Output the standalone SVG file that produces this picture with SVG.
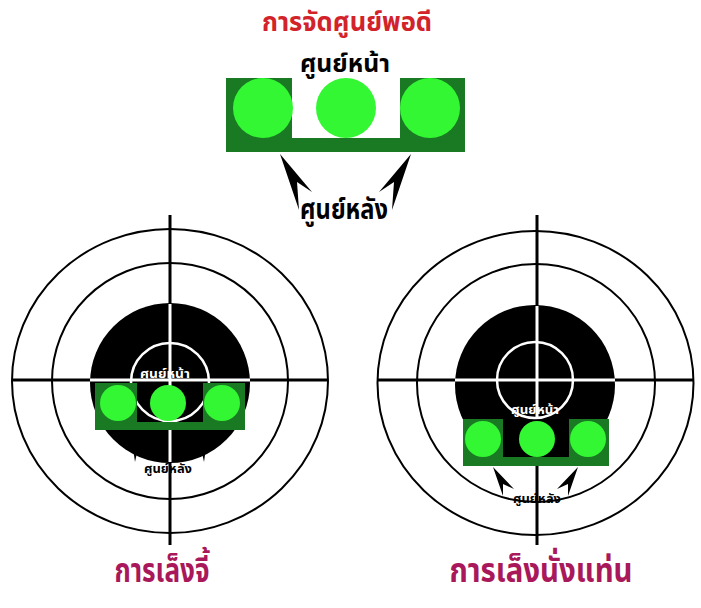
<svg xmlns="http://www.w3.org/2000/svg" width="701" height="608" viewBox="0 0 701 608">
<style>
.th{font-family:"Noto Sans Thai","Noto Sans","DejaVu Sans",sans-serif;font-weight:bold;text-anchor:middle}
.ring{fill:none;stroke:#000;stroke-width:2}
.cross{stroke:#000;stroke-width:3}
.wcross{stroke:#fff;stroke-width:3}
.frame{fill:#1a7a24}
.dot{fill:#33f733}
.arrow{fill:#000}
</style>
<rect width="701" height="608" fill="#fff"/>

<g id="title">
<text class="th" x="347" y="31" font-size="27" fill="#d2232a" textLength="170" lengthAdjust="spacingAndGlyphs">การจัดศูนย์พอดี</text>
</g>

<g id="sight-top">
<text class="th" x="345" y="72" font-size="25" fill="#000" textLength="90" lengthAdjust="spacingAndGlyphs">ศูนย์หน้า</text>
<path class="frame" d="M226 78 H292 V138 H400 V78 H465 V152 H226 Z"/>
<circle class="dot" cx="263" cy="108" r="30"/>
<circle class="dot" cx="346" cy="108" r="30"/>
<circle class="dot" cx="430" cy="108" r="30"/>
</g>

<g id="connectors">
<path class="arrow" d="M280 154 L312 192 L297 182 L299 210 Z"/>
<path class="arrow" d="M411 154 L379 192 L394 182 L392 210 Z"/>
<path class="arrow" d="M493 467 L514 489 L503 484 L503 496 Z"/>
<path class="arrow" d="M578 467 L557 489 L568 484 L568 496 Z"/>
<path class="arrow" d="M133 448 L138 448 L135 462 Z"/>
<path class="arrow" d="M201 448 L206 448 L204 462 Z"/>
</g>

<g id="rear-label">
<text class="th" x="344" y="219" font-size="28" fill="#000" textLength="88" lengthAdjust="spacingAndGlyphs">ศูนย์หลัง</text>
</g>

<g id="target-left">
<ellipse class="ring" cx="170" cy="381" rx="158" ry="152"/>
<circle class="ring" cx="170" cy="381" r="118"/>
<line class="cross" x1="170" y1="215" x2="170" y2="545"/>
<line class="cross" x1="12" y1="380" x2="328" y2="380"/>
<circle cx="170" cy="383" r="80" fill="#000"/>
<line class="wcross" x1="90" y1="380" x2="250" y2="380"/>
<line class="wcross" x1="170" y1="304" x2="170" y2="462"/>
<circle cx="170" cy="382" r="39" fill="none" stroke="#fff" stroke-width="2.5"/>
<text class="th" x="165" y="378" font-size="13" fill="#fff" textLength="50" lengthAdjust="spacingAndGlyphs">ศูนย์หน้า</text>
<path class="frame" d="M95 383 H137 V422 H203 V383 H245 V430 H95 Z"/>
<circle class="dot" cx="118" cy="403" r="18"/>
<circle class="dot" cx="168" cy="403" r="18"/>
<circle class="dot" cx="222" cy="403" r="18"/>
<text class="th" x="168" y="473" font-size="13" fill="#000" textLength="48" lengthAdjust="spacingAndGlyphs">ศูนย์หลัง</text>
<text class="th" x="162" y="582" font-size="34" fill="#a8185a" textLength="95" lengthAdjust="spacingAndGlyphs">การเล็งจี้</text>
</g>

<g id="target-right">
<ellipse class="ring" cx="535.5" cy="383" rx="158" ry="152"/>
<circle class="ring" cx="536" cy="383" r="119"/>
<line class="cross" x1="537" y1="215" x2="537" y2="545"/>
<line class="cross" x1="378" y1="380" x2="693" y2="380"/>
<circle cx="535" cy="385" r="80" fill="#000"/>
<line class="wcross" x1="455" y1="380" x2="615" y2="380"/>
<line class="wcross" x1="537" y1="306" x2="537" y2="418"/>
<circle cx="535" cy="380" r="38" fill="none" stroke="#fff" stroke-width="2.5"/>
<text class="th" x="535" y="414" font-size="13" fill="#fff" textLength="48" lengthAdjust="spacingAndGlyphs">ศูนย์หน้า</text>
<path class="frame" d="M463 419 H503 V457 H569 V419 H609 V466 H463 Z"/>
<circle class="dot" cx="483" cy="439" r="18"/>
<circle class="dot" cx="537" cy="439" r="18"/>
<circle class="dot" cx="588" cy="439" r="18"/>
<text class="th" x="537" y="503" font-size="13" fill="#000" textLength="48" lengthAdjust="spacingAndGlyphs">ศูนย์หลัง</text>
<text class="th" x="541" y="582" font-size="34" fill="#a8185a" textLength="183" lengthAdjust="spacingAndGlyphs">การเล็งนั่งแท่น</text>
</g>
</svg>
